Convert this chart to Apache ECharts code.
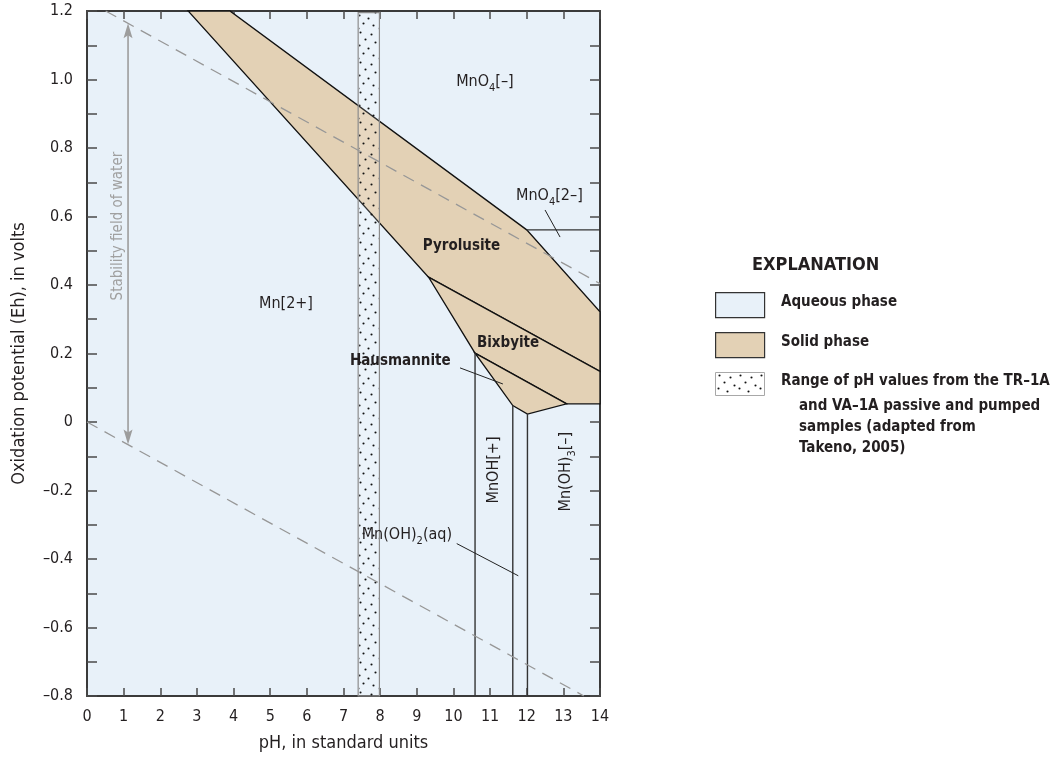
<!DOCTYPE html>
<html>
<head>
<meta charset="utf-8">
<script src="https://cdn.jsdelivr.net/npm/echarts@6/dist/echarts.min.js"></script>
<style>
  html, body { margin: 0; padding: 0; background: #ffffff; }
  #chart { width: 1056px; height: 757px; }
</style>
</head>
<body>
<div id="chart"></div>
<script>
// Eh–pH diagram for manganese, with the stability field of water.
const FONT = '"Liberation Sans Narrow", "DejaVu Sans Condensed", "Roboto", sans-serif';
const INK = '#231f20';
const AQUEOUS = '#e8f1f9';
const SOLID = '#e3d1b5';

// Axis extents
const phRange = [0, 14];
const ehRange = [-0.8, 1.2];

// Solid-phase fields, vertices as [pH, Eh]
const pyrolusite = [[2.76, 1.2], [3.90, 1.2], [12.0, 0.561], [14, 0.322], [14, 0.148], [9.32, 0.423]];
const bixbyite = [[9.32, 0.423], [14, 0.148], [14, 0.053], [13.09, 0.053], [10.59, 0.201]];
const hausmannite = [[10.59, 0.201], [13.09, 0.053], [12.02, 0.023], [11.62, 0.048]];

// Boundaries between aqueous species: [pH1, Eh1, pH2, Eh2]
const aqueousBoundaries = [
  [12.0, 0.561, 14, 0.561],
  [10.59, 0.201, 10.59, -0.8],
  [11.62, 0.048, 11.62, -0.8],
  [12.02, 0.023, 12.02, -0.8]
];

// Leader lines from labels to their fields
const leaders = [
  [12.50, 0.619, 12.91, 0.540],
  [10.18, 0.158, 11.35, 0.111],
  [10.09, -0.355, 11.77, -0.449]
];

// Limits of water stability (dashed)
const waterUpper = [[0.51, 1.2], [14, 0.404]];
const waterLower = [[0, 0], [13.56, -0.8]];

// Double-headed arrow marking the stability field of water
const waterArrow = [[1.12, 1.164], [1.12, -0.066]];

// Range of measured pH values
const samplePH = [7.40, 7.98];
const sampleEhTop = 1.195;

// Field labels: [pH, Eh, text, rotated]
const fieldLabels = [
  [10.86, 0.99, '{n|MnO}{s|4}{n|[–]}', false],
  [12.62, 0.657, '{n|MnO}{s|4}{n|[2–]}', false],
  [10.22, 0.51, '{b|Pyrolusite}', false],
  [11.49, 0.225, '{b|Bixbyite}', false],
  [8.55, 0.173, '{b|Hausmannite}', false],
  [5.43, 0.342, '{n|Mn[2+]}', false],
  [11.14, -0.14, '{n|MnOH[+]}', true],
  [13.10, -0.145, '{n|Mn(OH)}{s|3}{n|[–]}', true],
  [8.73, -0.332, '{n|Mn(OH)}{s|2}{n|(aq)}', false]
];
const waterLabel = [0.85, 0.572, 'Stability field of water'];

const richStyles = {
  n: { fontFamily: FONT, fontSize: 16, lineHeight: 18, verticalAlign: 'top', fill: INK },
  b: { fontFamily: FONT, fontSize: 15, fontWeight: 'bold', lineHeight: 18, verticalAlign: 'top', fill: INK },
  s: { fontFamily: FONT, fontSize: 11, lineHeight: 11, verticalAlign: 'top', padding: [9, 0, 0, 0], fill: INK }
};

// Stipple tile for the pH-range band
function makeDotTile() {
  const c = document.createElement('canvas');
  c.width = 21; c.height = 30;
  const g = c.getContext('2d');
  g.fillStyle = '#111111';
  const dots = [[3, 2], [14, 4], [8, 9], [18, 12], [2, 15], [11, 18], [6, 23], [16, 25], [1, 28]];
  dots.forEach(function (d) { g.beginPath(); g.arc(d[0] + 0.5, d[1] + 0.5, 1.05, 0, Math.PI * 2); g.fill(); });
  return c;
}
const dotTile = makeDotTile();

const chart = echarts.init(document.getElementById('chart'), null, { renderer: 'canvas' });

function polyShape(api, pts) {
  return pts.map(function (p) { return api.coord(p); });
}

const axisLineStyle = { color: '#3a3a3a', width: 2 };
const tickStyle = { color: '#4a4a4a', width: 1.5 };

function ehLabel(v) {
  const t = Math.round(v * 10);
  if (t % 2 !== 0) return '';
  if (t === 0) return '0';
  return (t / 10).toFixed(1).replace('-', '\u2013');
}

const option = {
  animation: false,
  backgroundColor: '#ffffff',
  grid: { left: 87, right: 456, top: 11, bottom: 60, show: true, backgroundColor: AQUEOUS, borderWidth: 0 },
  xAxis: [
    {
      type: 'value', min: phRange[0], max: phRange[1], interval: 1, position: 'bottom',
      axisLine: { show: true, onZero: false, lineStyle: axisLineStyle },
      axisTick: { show: true, inside: true, length: 8, lineStyle: tickStyle },
      axisLabel: { margin: 13, fontSize: 16, color: INK, fontFamily: FONT },
      splitLine: { show: false },
      name: 'pH, in standard units', nameLocation: 'middle', nameGap: 38,
      nameTextStyle: { fontSize: 18, color: INK, fontFamily: FONT }
    },
    {
      type: 'value', min: phRange[0], max: phRange[1], interval: 1, position: 'top',
      axisLine: { show: true, onZero: false, lineStyle: axisLineStyle },
      axisTick: { show: true, inside: true, length: 8, lineStyle: tickStyle },
      axisLabel: { show: false }, splitLine: { show: false }
    }
  ],
  yAxis: [
    {
      type: 'value', min: ehRange[0], max: ehRange[1], interval: 0.1, position: 'left',
      axisLine: { show: true, onZero: false, lineStyle: axisLineStyle },
      axisTick: { show: true, inside: true, length: 10, lineStyle: tickStyle },
      axisLabel: { margin: 14, fontSize: 16, color: INK, fontFamily: FONT, formatter: ehLabel },
      splitLine: { show: false },
      name: 'Oxidation potential (Eh), in volts', nameLocation: 'middle', nameGap: 59,
      nameTextStyle: { fontSize: 18, color: INK, fontFamily: FONT }
    },
    {
      type: 'value', min: ehRange[0], max: ehRange[1], interval: 0.1, position: 'right',
      axisLine: { show: true, onZero: false, lineStyle: axisLineStyle },
      axisTick: { show: true, inside: true, length: 10, lineStyle: tickStyle },
      axisLabel: { show: false }, splitLine: { show: false }
    }
  ],
  series: [
    {
      name: 'Solid phase', type: 'custom', xAxisIndex: 0, yAxisIndex: 0, z: 2,
      data: [[0], [1], [2]],
      renderItem: function (params, api) {
        const pts = [pyrolusite, bixbyite, hausmannite][params.dataIndex];
        return { type: 'polygon', shape: { points: polyShape(api, pts) },
          style: { fill: SOLID, stroke: '#111111', lineWidth: 1.3, lineJoin: 'miter' } };
      }
    },
    {
      name: 'Boundaries', type: 'custom', xAxisIndex: 0, yAxisIndex: 0, z: 3,
      data: aqueousBoundaries,
      renderItem: function (params, api) {
        const a = api.coord([api.value(0), api.value(1)]);
        const b = api.coord([api.value(2), api.value(3)]);
        return { type: 'line', shape: { x1: a[0], y1: a[1], x2: b[0], y2: b[1] },
          style: { stroke: '#333333', lineWidth: 1.4 } };
      }
    },
    {
      name: 'Leaders', type: 'custom', xAxisIndex: 0, yAxisIndex: 0, z: 3,
      data: leaders,
      renderItem: function (params, api) {
        const a = api.coord([api.value(0), api.value(1)]);
        const b = api.coord([api.value(2), api.value(3)]);
        return { type: 'line', shape: { x1: a[0], y1: a[1], x2: b[0], y2: b[1] },
          style: { stroke: '#222222', lineWidth: 1 } };
      }
    },
    {
      name: 'pH range', type: 'custom', xAxisIndex: 0, yAxisIndex: 0, z: 4,
      data: [[samplePH[0], sampleEhTop, samplePH[1], ehRange[0]]],
      renderItem: function (params, api) {
        const a = api.coord([api.value(0), api.value(1)]);
        const b = api.coord([api.value(2), api.value(3)]);
        return { type: 'group', children: [
          { type: 'rect', shape: { x: a[0], y: a[1], width: b[0] - a[0], height: b[1] - a[1] },
            style: { fill: 'rgba(255,255,255,0.15)', stroke: '#8c8c8c', lineWidth: 1.2 } },
          { type: 'rect', shape: { x: a[0] + 1, y: a[1], width: b[0] - a[0] - 2, height: b[1] - a[1] },
            style: { fill: { image: dotTile, repeat: 'repeat' } } }
        ] };
      }
    },
    {
      name: 'Water upper', type: 'line', xAxisIndex: 0, yAxisIndex: 0, z: 5,
      data: waterUpper, symbol: 'none', silent: true,
      lineStyle: { color: '#979797', width: 1.3, type: [12, 8] }
    },
    {
      name: 'Water lower', type: 'line', xAxisIndex: 0, yAxisIndex: 0, z: 5,
      data: waterLower, symbol: 'none', silent: true,
      lineStyle: { color: '#979797', width: 1.3, type: [12, 8] }
    },
    {
      name: 'Water arrow', type: 'custom', xAxisIndex: 0, yAxisIndex: 0, z: 5,
      data: [[waterArrow[0][0], waterArrow[0][1], waterArrow[1][0], waterArrow[1][1]]],
      renderItem: function (params, api) {
        const a = api.coord([api.value(0), api.value(1)]);
        const b = api.coord([api.value(2), api.value(3)]);
        const col = '#9d9d9d', w = 4.5, h = 15;
        return { type: 'group', children: [
          { type: 'line', shape: { x1: a[0], y1: a[1] + 8, x2: b[0], y2: b[1] - 8 }, style: { stroke: col, lineWidth: 1.6 } },
          { type: 'polygon', shape: { points: [[a[0], a[1]], [a[0] - w, a[1] + h], [a[0], a[1] + h - 3], [a[0] + w, a[1] + h]] }, style: { fill: col } },
          { type: 'polygon', shape: { points: [[b[0], b[1]], [b[0] - w, b[1] - h], [b[0], b[1] - h + 3], [b[0] + w, b[1] - h]] }, style: { fill: col } }
        ] };
      }
    },
    {
      name: 'Labels', type: 'custom', xAxisIndex: 0, yAxisIndex: 0, z: 6,
      data: fieldLabels.map(function (r) { return [r[0], r[1]]; }),
      renderItem: function (params, api) {
        const r = fieldLabels[params.dataIndex];
        const p = api.coord([r[0], r[1]]);
        return { type: 'text', x: p[0], y: p[1], rotation: r[3] ? Math.PI / 2 : 0,
          style: { text: r[2], rich: richStyles, align: 'center', verticalAlign: 'middle',
            fontFamily: FONT, fontSize: 16, fill: INK } };
      }
    },
    {
      name: 'Water label', type: 'custom', xAxisIndex: 0, yAxisIndex: 0, z: 6,
      data: [[waterLabel[0], waterLabel[1]]],
      renderItem: function (params, api) {
        const p = api.coord([api.value(0), api.value(1)]);
        return { type: 'text', x: p[0], y: p[1], rotation: Math.PI / 2,
          style: { text: waterLabel[2], align: 'center', verticalAlign: 'middle',
            fontFamily: FONT, fontSize: 15, fill: '#a0a0a0' } };
      }
    }
  ],
  graphic: [
    { type: 'text', left: 752, top: 256, style: { text: 'EXPLANATION', fontFamily: FONT, fontSize: 18, fontWeight: 'bold', fill: INK } },
    { type: 'rect', left: 715, top: 292, shape: { width: 49, height: 25 }, style: { fill: AQUEOUS, stroke: '#333', lineWidth: 1.2 } },
    { type: 'text', left: 781, top: 295, style: { text: 'Aqueous phase', fontFamily: FONT, fontSize: 15, fontWeight: 'bold', fill: INK } },
    { type: 'rect', left: 715, top: 332, shape: { width: 49, height: 25 }, style: { fill: SOLID, stroke: '#333', lineWidth: 1.2 } },
    { type: 'text', left: 781, top: 335, style: { text: 'Solid phase', fontFamily: FONT, fontSize: 15, fontWeight: 'bold', fill: INK } },
    { type: 'rect', left: 715, top: 372, shape: { width: 49, height: 23 }, style: { fill: '#ffffff', stroke: '#a8a8a8', lineWidth: 1 } },
    { type: 'rect', left: 716, top: 373, shape: { width: 47, height: 21 }, style: { fill: { image: dotTile, repeat: 'repeat' } } },
    { type: 'text', left: 781, top: 374, style: { text: 'Range of pH values from the TR\u20131A', fontFamily: FONT, fontSize: 15, fontWeight: 'bold', fill: INK } },
    { type: 'text', left: 799, top: 396, style: { text: 'and VA\u20131A passive and pumped\nsamples (adapted from\nTakeno, 2005)', fontFamily: FONT, fontSize: 15, fontWeight: 'bold', fill: INK, lineHeight: 21 } }
  ]
};

chart.setOption(option);
</script>
</body>
</html>
